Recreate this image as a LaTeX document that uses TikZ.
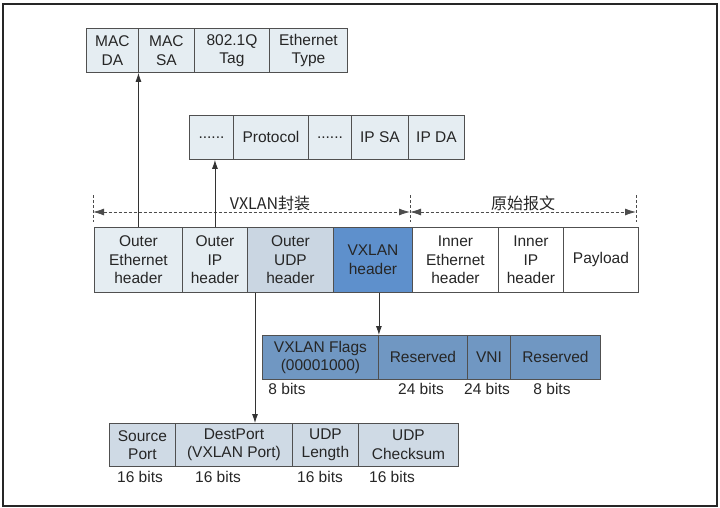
\documentclass[tikz,border=0pt]{standalone}
\usepackage{fontspec}
\setmainfont{Liberation Sans}
\newfontfamily\cjk{Noto Sans CJK SC}
\usetikzlibrary{arrows.meta}
\definecolor{lightc}{HTML}{E5EDF2}
\definecolor{midc}{HTML}{CAD6E2}
\definecolor{bluec}{HTML}{5E90CC}
\definecolor{steelc}{HTML}{7097C2}
\definecolor{botc}{HTML}{CFDAE5}
\definecolor{edgec}{HTML}{505050}
\tikzset{
  cell/.style={draw=edgec, line width=0.9pt, anchor=north west, inner sep=0pt,
    align=center, font=\fontsize{15.5}{18.5}\selectfont, text=black!85},
  arr/.style={draw=black!80, line width=0.8pt, -{Latex[length=9pt,width=6pt]}},
  dim/.style={draw=black!70, line width=0.8pt, dash pattern=on 3pt off 2pt},
  dimarr/.style={dim, {Latex[length=11pt,width=7pt]}-{Latex[length=11pt,width=7pt]}},
  lbl/.style={font=\fontsize{15.5}{18}\selectfont, text=black!85, inner sep=0pt},
  cjklbl/.style={font=\cjk\fontsize{16}{18}\selectfont, text=black!85, inner sep=0pt},
}
\begin{document}
\begin{tikzpicture}[x=1pt,y=-1pt]
\useasboundingbox (0,0) rectangle (720,508);
\fill[white] (0,0) rectangle (720,508);
\draw[black!85, line width=2pt] (3,4) rectangle (717,506);

% top row: Ethernet header fields
\node[cell, fill=lightc, minimum width=52pt, minimum height=44pt] (macda) at (86,28) {MAC\\DA};
\node[cell, fill=lightc, minimum width=56pt, minimum height=44pt] (macsa) at (138,28) {MAC\\SA};
\node[cell, fill=lightc, minimum width=75pt, minimum height=44pt] (tag) at (194,28) {802.1Q\\Tag};
\node[cell, fill=lightc, minimum width=78pt, minimum height=44pt] (etype) at (269,28) {Ethernet\\Type};

% IP header fields
\node[cell, fill=lightc, minimum width=44pt, minimum height=44pt] (dots1) at (189,115) {......};
\node[cell, fill=lightc, minimum width=75pt, minimum height=44pt] (proto) at (233,115) {Protocol};
\node[cell, fill=lightc, minimum width=43pt, minimum height=44pt] (dots2) at (308,115) {......};
\node[cell, fill=lightc, minimum width=57pt, minimum height=44pt] (ipsa) at (351,115) {IP SA};
\node[cell, fill=lightc, minimum width=56pt, minimum height=44pt] (ipda) at (408,115) {IP DA};

% main row
\node[cell, fill=lightc, minimum width=88pt, minimum height=65pt] (oeth) at (94,227) {Outer\\Ethernet\\header};
\node[cell, fill=lightc, minimum width=65pt, minimum height=65pt] (oip) at (182,227) {Outer\\IP\\header};
\node[cell, fill=midc, minimum width=86pt, minimum height=65pt] (oudp) at (247,227) {Outer\\UDP\\header};
\node[cell, fill=bluec, minimum width=79pt, minimum height=65pt] (vxh) at (333,227) {VXLAN\\header};
\node[cell, fill=white, minimum width=86pt, minimum height=65pt] (ieth) at (412,227) {Inner\\Ethernet\\header};
\node[cell, fill=white, minimum width=65pt, minimum height=65pt] (iip) at (498,227) {Inner\\IP\\header};
\node[cell, fill=white, minimum width=75pt, minimum height=65pt] (pay) at (563,227) {Payload};

% VXLAN header fields
\node[cell, fill=steelc, minimum width=116pt, minimum height=44pt] (flags) at (262,335) {VXLAN Flags\\(00001000)};
\node[cell, fill=steelc, minimum width=89pt, minimum height=44pt] (res1) at (378,335) {Reserved};
\node[cell, fill=steelc, minimum width=43pt, minimum height=44pt] (vni) at (467,335) {VNI};
\node[cell, fill=steelc, minimum width=90pt, minimum height=44pt] (res2) at (510,335) {Reserved};
\node[lbl] (b1) at (287,389) {8 bits};
\node[lbl] (b2) at (421,389) {24 bits};
\node[lbl] (b3) at (487,389) {24 bits};
\node[lbl] (b4) at (552,389) {8 bits};

% UDP header fields
\node[cell, fill=botc, minimum width=66pt, minimum height=43pt] (sport) at (109,423) {Source\\Port};
\node[cell, fill=botc, minimum width=117pt, minimum height=43pt] (dport) at (175,423) {DestPort\\(VXLAN Port)};
\node[cell, fill=botc, minimum width=66pt, minimum height=43pt] (ulen) at (292,423) {UDP\\Length};
\node[cell, fill=botc, minimum width=100pt, minimum height=43pt] (ucs) at (358,423) {UDP\\Checksum};
\node[lbl] (u1) at (140,477) {16 bits};
\node[lbl] (u2) at (218,477) {16 bits};
\node[lbl] (u3) at (320,477) {16 bits};
\node[lbl] (u4) at (392,477) {16 bits};

% dimension line
\coordinate (dl) at (93,212);
\coordinate (dm) at (410,212);
\coordinate (dr) at (636,212);
\draw[dim] (93,195) -- (93,222);
\draw[dim] (410,195) -- (410,222);
\draw[dim] (636,195) -- (636,222);
\draw[dimarr] (dl) -- (dm);
\draw[dimarr] (dm) -- (dr);
\node[cjklbl] (enc) at (270,203) {VXLAN封装};
\node[cjklbl] (orig) at (523,203) {原始报文};

% connectors
\draw[arr] (oeth.north) -- (oeth.north |- macda.south);
\draw[arr] (oip.north) -- (oip.north |- dots1.south);
\draw[arr] (vxh.south -| flags.north east) -- (flags.north east);
\draw[arr] ([xshift=8pt]oudp.south west) -- ([xshift=8pt]oudp.south west |- dport.north);
\end{tikzpicture}
\end{document}
